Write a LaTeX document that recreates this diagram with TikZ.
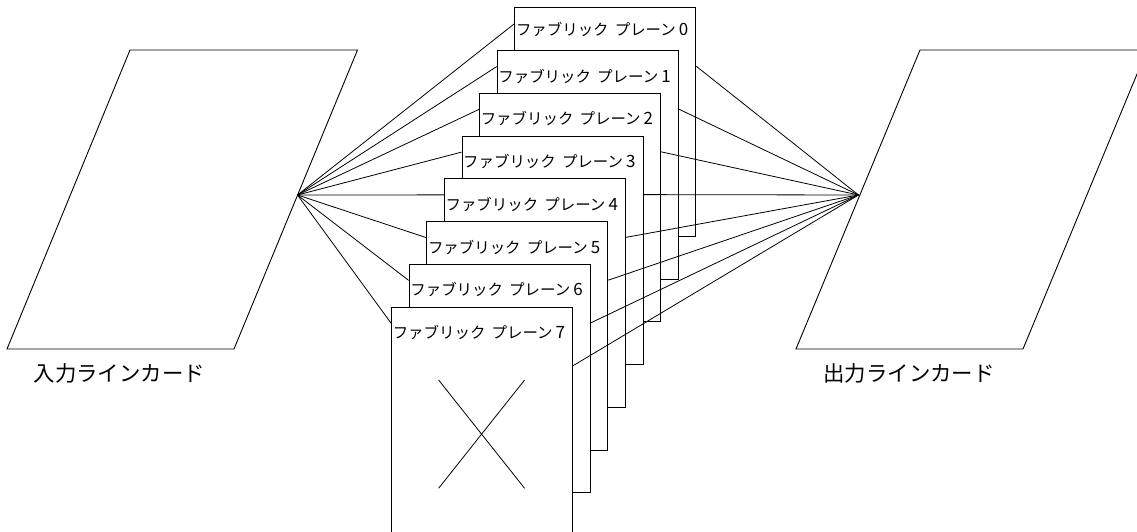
\documentclass[tikz,border=0pt]{standalone}
\usepackage{fontspec}
\setmainfont{Noto Sans CJK JP}
\newcommand{\planetext}[1]{ファブリック\hspace{0.4em}プレーン\hspace{0.2em}{\fontsize{17}{17}\selectfont #1}}
\begin{document}
\begin{tikzpicture}[x=1bp,y=-1bp,
  card/.style={draw,line width=0.9bp,line join=miter},
  plane/.style={draw,fill=white,line width=1bp,minimum width=181bp,minimum height=228.5bp,inner sep=0pt,anchor=north west},
  planelabel/.style={font=\fontsize{15.5}{16}\selectfont,inner sep=0pt,anchor=west},
  cardlabel/.style={font=\fontsize{21.5}{22}\selectfont,inner sep=0pt},
  wire/.style={line width=0.8bp},
  cross/.style={line width=0.8bp}]
\useasboundingbox (0,0) rectangle (1137,532);
\clip (0,0) rectangle (1137,532);
% line cards
\draw[card] (130,50) -- (357.5,50) -- (234,349) -- (7,349) -- cycle;
\draw[card] (920,50) -- (1147,50) -- (1023,349) -- (796,349) -- cycle;
\coordinate (L) at (297.5,195);
\coordinate (R) at (858.5,195);
\node[cardlabel] (inlabel) at (119.3,373) {入力ラインカード};
\node[cardlabel] (outlabel) at (909,373.5) {出力ラインカード};
% fabric planes, back to front
\foreach \i in {0,...,7} {
  \node[plane] (p\i) at ({514.3-17.6*\i},{7.3+42.77*\i}) {};
}
\node[planelabel] (t0) at ([shift={(1.5,22)}]p0.north west) {\planetext{0}};
\foreach \i in {1,...,7} {
  \node[planelabel] (t\i) at ([shift={(1.5,26)}]p\i.north west) {\planetext{\i}};
}
% connectors
\foreach \i in {0,...,7} {
  \draw[wire] (L) -- ([shift={(0,16.5)}]p\i.north west);
  \draw[wire] (R) -- ([shift={(0,59)}]p\i.north east);
}
% failed plane mark
\coordinate (xa) at ([shift={(47.5,73.3)}]p7.north west);
\coordinate (xb) at ([shift={(133.5,181.6)}]p7.north west);
\coordinate (xc) at ([shift={(133.5,73.3)}]p7.north west);
\coordinate (xd) at ([shift={(47.5,181.6)}]p7.north west);
\draw[cross] (xa) -- (xb);
\draw[cross] (xc) -- (xd);
\end{tikzpicture}
\end{document}
